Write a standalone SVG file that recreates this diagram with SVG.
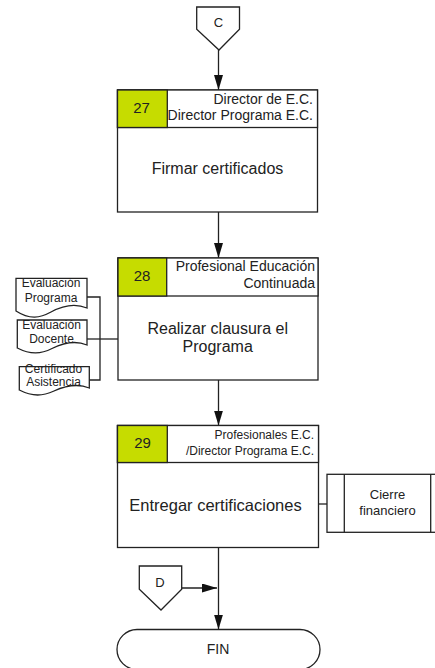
<svg xmlns="http://www.w3.org/2000/svg" width="435" height="668" viewBox="0 0 435 668">
<style>
.s{fill:#fff;stroke:#222;stroke-width:1.3}
.g{fill:#c6dc00;stroke:#222;stroke-width:1.3}
.ln{fill:none;stroke:#222;stroke-width:1.3}
text{font-family:"Liberation Sans",Arial,sans-serif;fill:#222}
.num{font-size:15px;text-anchor:middle}
.hd{font-size:14px;text-anchor:end}
.hd2{font-size:12px;text-anchor:end}
.mn{font-size:16px;text-anchor:middle}
.dc{font-size:12px;text-anchor:middle}
.sm{font-size:13px;text-anchor:middle}
</style>
<defs>
<marker id="ah" viewBox="0 0 15 9" refX="15" refY="4.5" markerWidth="15" markerHeight="9" markerUnits="userSpaceOnUse" orient="auto">
<path d="M0,0 L15,4.5 L0,9 Z" fill="#111"/>
</marker>
</defs>
<g id="connectors">
<line class="ln" x1="218.5" y1="50" x2="218.5" y2="90" marker-end="url(#ah)"/>
<line class="ln" x1="218.5" y1="212" x2="218.5" y2="258" marker-end="url(#ah)"/>
<line class="ln" x1="218.5" y1="380" x2="218.5" y2="425.5" marker-end="url(#ah)"/>
<line class="ln" x1="218.5" y1="547.5" x2="218.5" y2="629.5" marker-end="url(#ah)"/>
<line class="ln" x1="181.5" y1="588" x2="217" y2="588" marker-end="url(#ah)"/>
<polyline class="ln" points="87,297 100,297 100,380 89,380"/>
<line class="ln" x1="87" y1="339" x2="118" y2="339"/>
<line class="ln" x1="318.5" y1="504" x2="327" y2="504"/>
</g>
<g id="C">
<path class="s" d="M196.7,7 H239.5 V29.3 L219,50 L196.7,29.3 Z"/>
<text class="sm" x="218.5" y="27">C</text>
</g>
<g id="n27">
<rect class="s" x="117.5" y="90" width="200" height="122"/>
<rect class="s" x="117.5" y="90" width="200" height="37.5"/>
<rect class="g" x="117.5" y="90" width="49.8" height="37.5"/>
<text class="num" x="141.5" y="113">27</text>
<text class="hd" x="313" y="103.5">Director de E.C.</text>
<text class="hd" x="313" y="120">Director Programa E.C.</text>
<text class="mn" x="217.5" y="173.5">Firmar certificados</text>
</g>
<g id="n28">
<rect class="s" x="118" y="258" width="200" height="122"/>
<rect class="s" x="118" y="258" width="200" height="38"/>
<rect class="g" x="118" y="258" width="48.7" height="38"/>
<text class="num" x="142" y="281">28</text>
<text class="hd" x="315" y="271">Profesional Educación</text>
<text class="hd" x="315" y="287.5">Continuada</text>
<text class="mn" x="217.7" y="333.5">Realizar clausura el</text>
<text class="mn" x="217.7" y="351.5">Programa</text>
</g>
<g id="doc1">
<path class="s" d="M16,278.3 H87 V308 C75,303 62,306 51,312 C40,318 30,320 16,311 Z"/>
<text class="dc" x="51" y="287">Evaluación</text>
<text class="dc" x="51" y="302">Programa</text>
</g>
<g id="doc2">
<path class="s" d="M17.3,320 H87 V345 C75,340 63,343 52,348.5 C41,354 31,355 17.3,348 Z"/>
<text class="dc" x="51.5" y="328.5">Evaluación</text>
<text class="dc" x="51.5" y="343">Docente</text>
</g>
<g id="doc3">
<path class="s" d="M19.3,366.7 H89.3 V388 C77,383 65,386 54,391 C43,396 33,397 19.3,390 Z"/>
<text class="dc" x="53.5" y="373">Certificado</text>
<text class="dc" x="53.5" y="385.5">Asistencia</text>
</g>
<g id="n29">
<rect class="s" x="117.5" y="425.5" width="201" height="122"/>
<rect class="s" x="117.5" y="425.5" width="201" height="37"/>
<rect class="g" x="117.5" y="425.5" width="49.8" height="37"/>
<text class="num" x="142.5" y="448">29</text>
<text class="hd2" x="314" y="438.5">Profesionales E.C.</text>
<text class="hd2" x="314" y="455">/Director Programa E.C.</text>
<text class="mn" x="215.5" y="510.5" style="font-size:16.5px">Entregar certificaciones</text>
</g>
<g id="cierre">
<rect class="s" x="327" y="474.3" width="122" height="58"/>
<line class="ln" x1="344.3" y1="474.3" x2="344.3" y2="532.3"/>
<line class="ln" x1="430.7" y1="474.3" x2="430.7" y2="532.3"/>
<text class="sm" x="387.5" y="498.5">Cierre</text>
<text class="sm" x="387.5" y="515">financiero</text>
</g>
<g id="D">
<path class="s" d="M139.3,566 H181.7 V589.3 L161,610 L139.3,589.3 Z"/>
<text class="sm" x="160" y="587">D</text>
</g>
<g id="fin">
<rect class="s" x="117" y="629.5" width="203" height="40" rx="20" ry="20"/>
<text class="sm" x="218" y="653.5" style="font-size:14px">FIN</text>
</g>
</svg>
